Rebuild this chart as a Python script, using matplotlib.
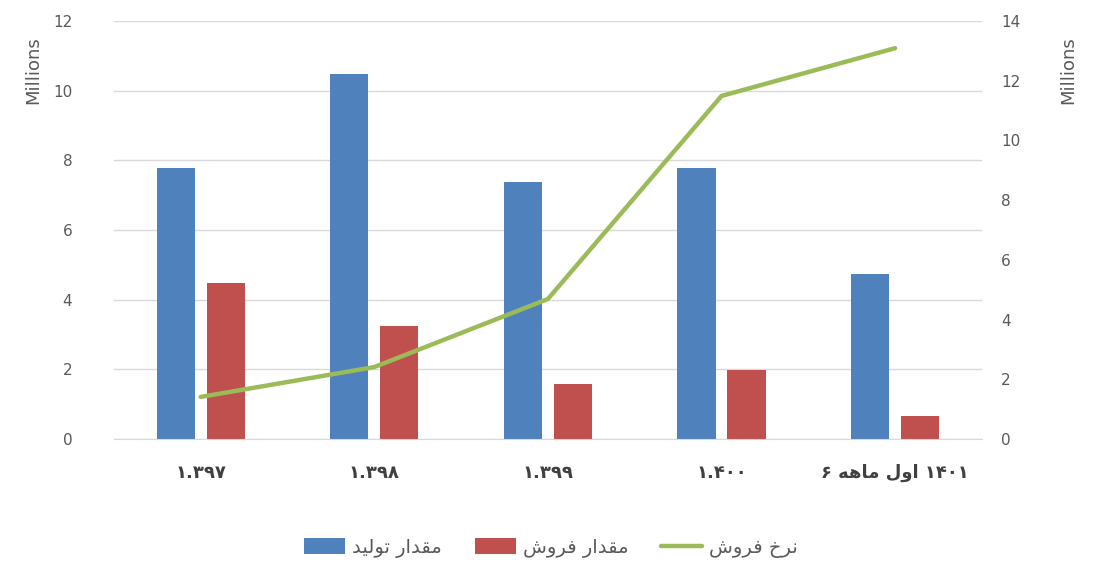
import matplotlib.pyplot as plt
import numpy as np

# data (millions)
categories = ["۱.۳۹۷", "۱.۳۹۸", "۱.۳۹۹", "۱.۴۰۰",
              # "6 ماهه اول 1401" written in shaped presentation forms, visual order
              "۶ \uFEEA\uFEEB\uFE8E\uFEE3 \uFEDD\uFEED\uFE8D ۱۴۰۱"]
production = [7.78, 10.48, 7.38, 7.78, 4.74]
sales = [4.48, 3.24, 1.58, 1.98, 0.66]
sale_rate = [1.41, 2.41, 4.69, 11.49, 13.09]

# legend labels (shaped, visual left-to-right order)
lbl_production = "\uFEAA\uFEF4\uFEDF\uFEEE\uFE97 \uFEAD\uFE8D\uFEAA\uFED8\uFEE3"   # مقدار تولید
lbl_sales = "\uFEB5\uFEED\uFEAE\uFED3 \uFEAD\uFE8D\uFEAA\uFED8\uFEE3"            # مقدار فروش
lbl_rate = "\uFEB5\uFEED\uFEAE\uFED3 \uFEA5\uFEAE\uFEE7"                          # نرخ فروش

plt.rcParams['font.family'] = ['DejaVu Sans']
gray = '#595959'

fig = plt.figure(figsize=(11.02, 5.72), dpi=100)
ax = fig.add_axes([0.1034, 0.2325, 0.7876, 0.7308])
ax2 = ax.twinx()

x = np.arange(len(categories))
w = 0.22
ax.bar(x - 0.144, production, w, color='#4F81BD', label=lbl_production, zorder=2)
ax.bar(x + 0.144, sales, w, color='#C0504D', label=lbl_sales, zorder=2)
ax2.plot(x, sale_rate, color='#9BBB59', lw=3.2, solid_capstyle='round', label=lbl_rate)

ax.set_xlim(-0.5, 4.5)
ax.set_ylim(0, 12)
ax.set_yticks(range(0, 13, 2))
ax2.set_ylim(0, 14)
ax2.set_yticks(range(0, 15, 2))

ax.grid(axis='y', color='#D9D9D9', lw=1, zorder=0)
for a in (ax, ax2):
    for s in a.spines.values():
        s.set_visible(False)
ax.spines['bottom'].set_visible(True)
ax.spines['bottom'].set_color('#D9D9D9')

ax.tick_params(axis='y', length=0, labelsize=11, labelcolor=gray, pad=30)
ax2.tick_params(axis='y', length=0, labelsize=11, labelcolor=gray, pad=14)
ax.set_xticks(x)
ax.set_xticklabels(categories, fontsize=13, fontweight='bold', color='#404040')
ax.tick_params(axis='x', length=0, pad=18)

fig.text(0.030, 0.878, "Millions", rotation=90, ha='center', va='center',
         fontsize=13, color=gray)
fig.text(0.969, 0.878, "Millions", rotation=90, ha='center', va='center',
         fontsize=13, color=gray)

h1, l1 = ax.get_legend_handles_labels()
h2, l2 = ax2.get_legend_handles_labels()
fig.legend(h1 + h2, l1 + l2, loc='center', bbox_to_anchor=(0.5, 0.042), ncol=3,
           frameon=False, fontsize=14, labelcolor=gray, handlelength=2.1,
           handleheight=0.85, columnspacing=1.7, handletextpad=0.35)

fig.savefig("out.png", dpi=100)
